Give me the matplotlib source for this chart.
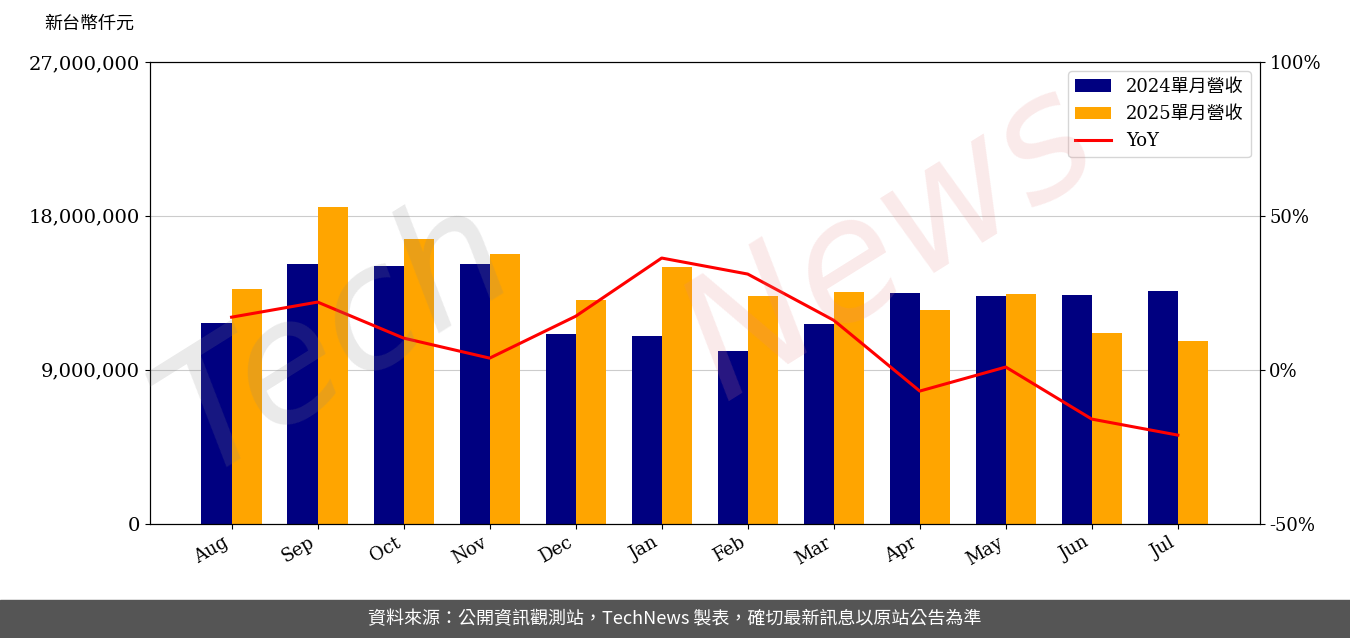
import matplotlib
matplotlib.use('Agg')
import matplotlib.pyplot as plt
import numpy as np

plt.rcParams['font.family'] = ['DejaVu Serif', 'Noto Sans CJK TC']

months = ['Aug', 'Sep', 'Oct', 'Nov', 'Dec', 'Jan', 'Feb', 'Mar', 'Apr', 'May', 'Jun', 'Jul']
rev_2024 = [11.75, 15.2, 15.08, 15.2, 11.1, 11.0, 10.1, 11.7, 13.5, 13.3, 13.4, 13.6]  # millions
rev_2025 = [13.73, 18.53, 16.66, 15.78, 13.09, 15.02, 13.33, 13.56, 12.5, 13.44, 11.16, 10.7]
yoy = [17.1, 22.0, 10.3, 3.8, 17.4, 36.3, 31.1, 16.1, -6.9, 0.9, -16.0, -21.2]

fig = plt.figure(figsize=(13.5, 6.38), dpi=100)
ax = fig.add_axes([0.111, 0.179, 0.822, 0.724])
x = np.arange(len(months))
w = 0.35
b1 = ax.bar(x - w / 2, np.array(rev_2024) * 1e6, w, color='#000080', zorder=2)
b2 = ax.bar(x + w / 2, np.array(rev_2025) * 1e6, w, color='#FFA500', zorder=2)
ax.set_ylim(0, 27e6)
ax.set_yticks([0, 9e6, 18e6, 27e6])
ax.set_yticklabels(['0', '9,000,000', '18,000,000', '27,000,000'], fontsize=14)
ax.grid(axis='y', color='#cccccc', zorder=0)
ax.set_xticks(x)
ax.set_xticklabels(months, rotation=30, ha='right', fontsize=13)
ax.set_xlim(-0.95, 11.95)

ax2 = ax.twinx()
l, = ax2.plot(x, yoy, color='red', lw=2.2)
ax2.set_ylim(-50, 100)
ax2.set_yticks([-50, 0, 50, 100])
ax2.set_yticklabels(['-50%', '0%', '50%', '100%'], fontsize=13)

ax2.legend([b1, b2, l], ['2024單月營收', '2025單月營收', 'YoY'], loc='upper right',
           prop={'family': ['DejaVu Serif', 'Noto Sans CJK TC'], 'size': 13})

# watermark
fig.text(0.25, 0.47, 'Tech', fontsize=120, color='#888888', alpha=0.18, rotation=32,
         ha='center', va='center', family='DejaVu Sans', fontstyle='italic', zorder=10)
fig.text(0.66, 0.62, 'News', fontsize=120, color='#e88888', alpha=0.18, rotation=32,
         ha='center', va='center', family='DejaVu Sans', fontstyle='italic', zorder=10)

fig.text(0.033, 0.955, '新台幣仟元', fontsize=13, family=['Noto Sans CJK TC'])
fig.patches.append(plt.Rectangle((0, 0), 1, 0.06, transform=fig.transFigure, color='#555555'))
fig.text(0.5, 0.03, '資料來源：公開資訊觀測站，TechNews 製表，確切最新訊息以原站公告為準',
         color='white', fontsize=13, ha='center', va='center', family=['Noto Sans CJK TC'])

fig.savefig('out.png')
